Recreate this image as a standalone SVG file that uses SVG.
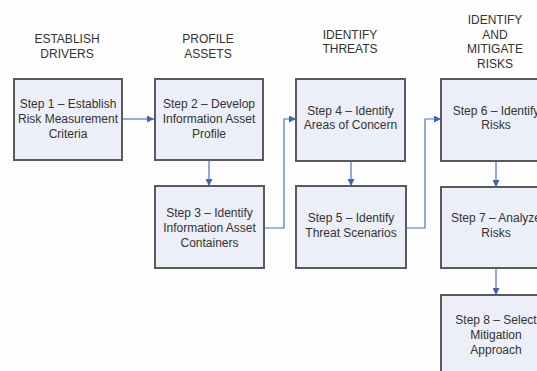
<svg xmlns="http://www.w3.org/2000/svg" width="537" height="371" viewBox="0 0 537 371">
<defs>
<style>
.box{fill:#eceef8;stroke:#5a5a5a;stroke-width:2}
.t{font-family:"Liberation Sans",Arial,sans-serif;font-size:12px;fill:#333;text-anchor:middle}
.c{fill:none;stroke:#4f72c4;stroke-width:1.2}
</style>
<marker id="ah" viewBox="0 0 8 8" refX="8" refY="4" markerWidth="7" markerHeight="7" markerUnits="userSpaceOnUse" orient="auto">
<path d="M0,0 L8,4 L0,8 Z" fill="#3f63b8"/>
</marker>
</defs>
<rect width="537" height="371" fill="#fdfdfd"/>
<g id="headers">
<text class="t" x="67" y="43">ESTABLISH</text>
<text class="t" x="67" y="58">DRIVERS</text>
<text class="t" x="208" y="43">PROFILE</text>
<text class="t" x="208" y="58">ASSETS</text>
<text class="t" x="350" y="39">IDENTIFY</text>
<text class="t" x="350" y="53">THREATS</text>
<text class="t" x="495" y="24">IDENTIFY</text>
<text class="t" x="495" y="39">AND</text>
<text class="t" x="495" y="53">MITIGATE</text>
<text class="t" x="495" y="68">RISKS</text>
</g>
<g id="connectors">
<path class="c" d="M122,119 H154" marker-end="url(#ah)"/>
<path class="c" d="M209,160 V186" marker-end="url(#ah)"/>
<path class="c" d="M264,228 H284 V119 H296" marker-end="url(#ah)"/>
<path class="c" d="M351,161 V186" marker-end="url(#ah)"/>
<path class="c" d="M406,228 H425 V119 H441" marker-end="url(#ah)"/>
<path class="c" d="M496,161 V187" marker-end="url(#ah)"/>
<path class="c" d="M496,268 V295" marker-end="url(#ah)"/>
</g>
<g id="step1">
<rect class="box" x="14" y="79" width="108" height="81"/>
<text class="t" x="68" y="108">Step 1 – Establish</text>
<text class="t" x="68" y="123">Risk Measurement</text>
<text class="t" x="68" y="138">Criteria</text>
</g>
<g id="step2">
<rect class="box" x="155" y="79" width="108" height="81"/>
<text class="t" x="209" y="108">Step 2 – Develop</text>
<text class="t" x="209" y="123">Information Asset</text>
<text class="t" x="209" y="138">Profile</text>
</g>
<g id="step3">
<rect class="box" x="155" y="186" width="109" height="82"/>
<text class="t" x="209.5" y="217">Step 3 – Identify</text>
<text class="t" x="209.5" y="232">Information Asset</text>
<text class="t" x="209.5" y="247">Containers</text>
</g>
<g id="step4">
<rect class="box" x="296" y="79" width="109" height="82"/>
<text class="t" x="350.5" y="115">Step 4 – Identify</text>
<text class="t" x="350.5" y="129">Areas of Concern</text>
</g>
<g id="step5">
<rect class="box" x="296" y="186" width="110" height="82"/>
<text class="t" x="351" y="222">Step 5 – Identify</text>
<text class="t" x="351" y="237">Threat Scenarios</text>
</g>
<g id="step6">
<rect class="box" x="441" y="79" width="110" height="82"/>
<text class="t" x="496" y="115">Step 6 – Identify</text>
<text class="t" x="496" y="129">Risks</text>
</g>
<g id="step7">
<rect class="box" x="441" y="187" width="110" height="81"/>
<text class="t" x="496" y="222">Step 7 – Analyze</text>
<text class="t" x="496" y="237">Risks</text>
</g>
<g id="step8">
<rect class="box" x="441" y="295" width="110" height="82"/>
<text class="t" x="496" y="324">Step 8 – Select</text>
<text class="t" x="496" y="339">Mitigation</text>
<text class="t" x="496" y="354">Approach</text>
</g>
</svg>
